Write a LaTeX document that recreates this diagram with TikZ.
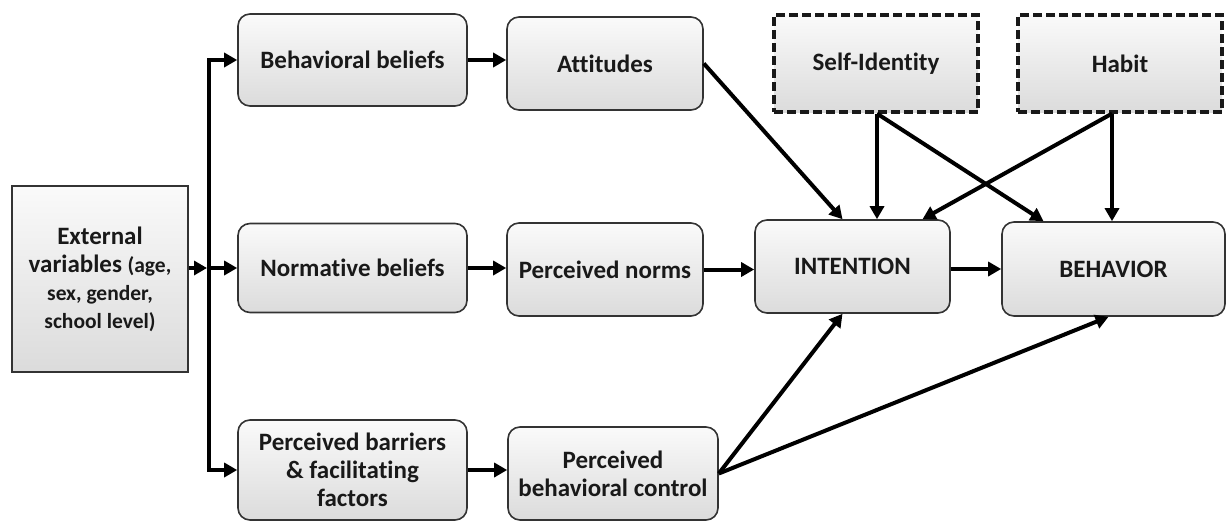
\documentclass[tikz,border=0pt]{standalone}
\usepackage{fontspec}
\setmainfont{Carlito}[Ligatures=NoCommon]
\usetikzlibrary{arrows.meta,shadings}
\begin{document}
\begin{tikzpicture}[x=1pt,y=-1pt,
  base/.style={line width=1.6pt, draw=black!80, top color=gray!4, bottom color=gray!28,
    align=center, inner sep=0pt, text=black!90,
    font=\fontsize{25}{28}\selectfont\bfseries},
  box/.style={base, rounded corners=12pt},
  sqbox/.style={base},
  dbox/.style={base, line width=3.2pt, draw=black!90, dash pattern=on 9pt off 4pt},
  arr/.style={line width=4pt, draw=black, -{Triangle[length=13pt,width=14pt]}},
  ln/.style={line width=4pt, draw=black, line cap=butt}
]
\useasboundingbox (0,0) rectangle (1228,522);

\node[sqbox, minimum width=176pt, minimum height=186pt] (ext) at (100,279)
  {External\\variables {\fontsize{21.5}{28}\selectfont(age,}\\{\fontsize{21.5}{28}\selectfont sex, gender,}\\{\fontsize{21.5}{28}\selectfont school level)}};

\node[box, minimum width=229pt, minimum height=92pt] (bb) at (352.5,60) {Behavioral beliefs};
\node[box, minimum width=196pt, minimum height=93pt] (att) at (605,63.5) {Attitudes};
\node[box, minimum width=229pt, minimum height=89pt] (nb) at (352.5,268) {Normative beliefs};
\node[box, minimum width=196pt, minimum height=93pt] (pn) at (605,269.5) {Perceived norms};
\node[box, minimum width=229pt, minimum height=100pt] (pb) at (352.5,470) {Perceived barriers\\\& facilitating\\factors};
\node[box, minimum width=210pt, minimum height=93pt] (pbc) at (613,473.5) {Perceived\\behavioral control};
\node[box, minimum width=195pt, minimum height=93pt] (int) at (852.5,266.5) {INTENTION};
\node[box, minimum width=223pt, minimum height=94pt] (beh) at (1113.5,269) {BEHAVIOR};
\node[dbox, minimum width=204pt, minimum height=97pt] (si) at (876,63.5) {Self-Identity};
\node[dbox, minimum width=204pt, minimum height=97pt] (hab) at (1120,63.5) {Habit};

% junction
\coordinate (jt) at (209,60);
\coordinate (jm) at (209,268);
\coordinate (jb) at (209,470);
\draw[ln] ([yshift=-2pt]jt) -- ([yshift=2pt]jb);
\draw[arr] (ext.east |- jm) -- ([xshift=-2pt]jm);
\draw[arr] ([xshift=-2pt]jt) -- (bb.west);
\draw[arr] (jm) -- (nb.west);
\draw[arr] ([xshift=-2pt]jb) -- (pb.west);

\draw[arr] (bb.east) -- (att.west |- bb.east);
\draw[arr] (nb.east) -- (pn.west |- nb.east);
\draw[arr] (pb.east) -- (pbc.west |- pb.east);

\draw[arr] (att.east) -- ([xshift=-10pt]int.north);
\draw[arr] (pn.east) -- (int.west |- pn.east);
\draw[arr] (int.east |- beh.west) -- (beh.west);

\coordinate (sis) at ([xshift=1pt]si.south);
\coordinate (habs) at ([xshift=-8pt]hab.south);
\draw[arr] (sis) -- (sis |- int.north);
\draw[arr] (sis) -- ([xshift=-70pt]beh.north);
\draw[arr] (habs) -- (habs |- beh.north);
\draw[arr] (habs) -- ([xshift=70pt]int.north);

\draw[arr] (pbc.east) -- ([xshift=-10pt]int.south);
\draw[arr] (pbc.east) -- ([xshift=-5pt]beh.south);
\end{tikzpicture}
\end{document}
